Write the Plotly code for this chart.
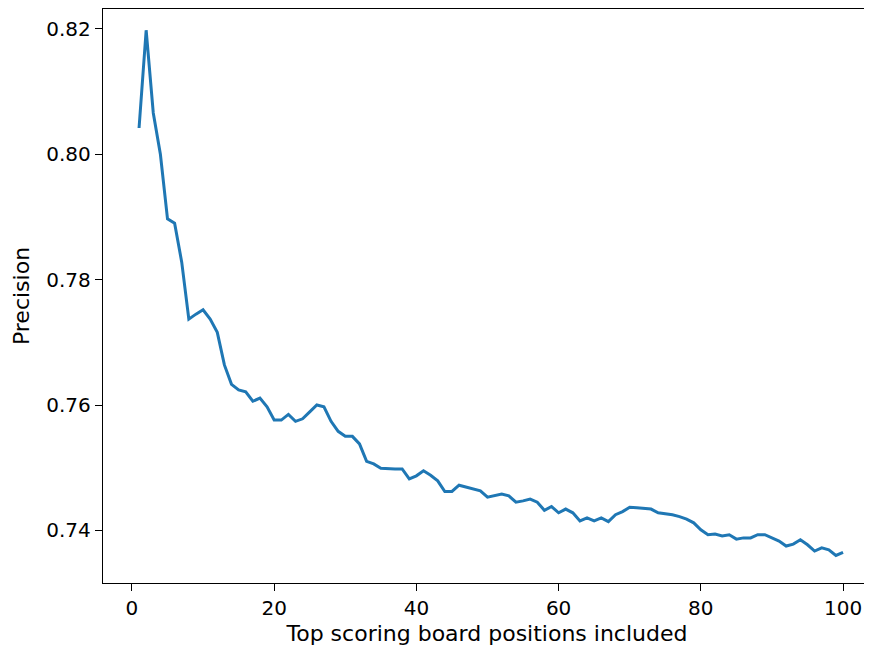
import plotly.graph_objects as go

positions = list(range(1, 101))
precision = [
    0.8042, 0.8198, 0.8066, 0.8000, 0.7897, 0.7890, 0.7828, 0.7737, 0.7745, 0.7752,
    0.7737, 0.7716, 0.7664, 0.7633, 0.7624, 0.7621, 0.7606, 0.7611, 0.7597, 0.7576,
    0.7576, 0.7585, 0.7574, 0.7578, 0.7589, 0.7600, 0.7597, 0.7574, 0.7558, 0.7550,
    0.7550, 0.7538, 0.7510, 0.7506, 0.7499, 0.7498, 0.7498, 0.7498, 0.7482, 0.7487,
    0.7495, 0.7488, 0.7479, 0.7462, 0.7462, 0.7472, 0.7469, 0.7467, 0.7463, 0.7453,
    0.7455, 0.7458, 0.7455, 0.7445, 0.7447, 0.7450, 0.7445, 0.7432, 0.7438, 0.7428,
    0.7434, 0.7428, 0.7415, 0.7420, 0.7415, 0.7420, 0.7414, 0.7425, 0.7430, 0.7437,
    0.7436, 0.7435, 0.7434, 0.7428, 0.7427, 0.7425, 0.7422, 0.7418, 0.7412, 0.7401,
    0.7393, 0.7394, 0.7391, 0.7393, 0.7386, 0.7388, 0.7388, 0.7393, 0.7393, 0.7388,
    0.7383, 0.7375, 0.7378, 0.7385, 0.7377, 0.7367, 0.7372, 0.7369, 0.7360, 0.7365,
]
x_ticks = [0, 20, 40, 60, 80, 100]
y_ticks = [0.74, 0.76, 0.78, 0.80, 0.82]

fig = go.Figure(go.Scatter(
    x=positions, y=precision, mode="lines",
    line=dict(color="#1f77b4", width=3),
))

axis_common = dict(
    showgrid=False, zeroline=False, showline=True, linecolor="black", linewidth=1.4,
    mirror=True, ticks="outside", ticklen=7, tickwidth=1.3, tickcolor="black",
    tickfont=dict(family="DejaVu Sans", size=20, color="black"),
)

fig.update_layout(
    width=864, height=645,
    margin=dict(l=95, r=1, t=1, b=70, autoexpand=False),
    paper_bgcolor="white", plot_bgcolor="white",
    showlegend=False,
    font=dict(family="DejaVu Sans", size=20, color="black"),
    xaxis=dict(
        range=[-4.07, 103.93], tickvals=x_ticks,
        title=dict(text="Top scoring board positions included", standoff=6,
                   font=dict(family="DejaVu Sans", size=22)),
        **axis_common,
    ),
    yaxis=dict(
        range=[0.7316, 0.82319], tickvals=y_ticks, tickformat=".2f",
        title=dict(text="Precision", standoff=10,
                   font=dict(family="DejaVu Sans", size=22)),
        **axis_common,
    ),
)

fig.write_html("out.html")
